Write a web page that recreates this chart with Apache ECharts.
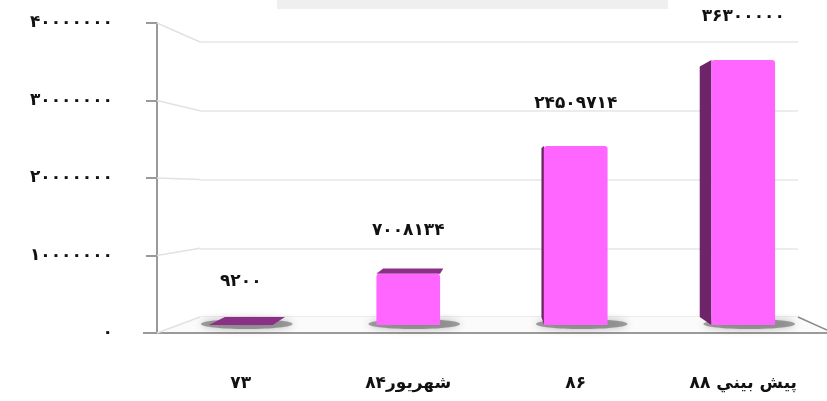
<!DOCTYPE html>
<html>
<head>
<meta charset="utf-8">
<script src="https://cdn.jsdelivr.net/npm/echarts@6/dist/echarts.min.js"></script>
<style>
html,body{margin:0;padding:0;background:#fff;}
#c{width:827px;height:401px;}
</style>
</head>
<body>
<div id="c"></div>
<script>
// ---- data ----
const categories = ['۷۳', 'شهریور۸۴', '۸۶', 'پيش بيني ۸۸'];
const values = [9200, 7008134, 24509714, 36300000];
const yMin = 0;
const yMax = 40000000;
const yInterval = 10000000;

// ---- helpers ----
const FA = '۰۱۲۳۴۵۶۷۸۹';
function fa(n) { return String(n).replace(/\d/g, d => FA[d]); }

const FONT = "'DejaVu Sans', sans-serif";
const FRONT = {left: 157, right: 0, top: 23, bottom: 68};
const BACK = {left: 200, right: 29, top: 42, bottom: 84};
const BARS = {left: 157, right: 0, top: 33, bottom: 76};

const C_FRONT = '#FF66FF';
const C_SIDE = '#6E2468';
const C_TOP = '#8A3086';

const chart = echarts.init(document.getElementById('c'), null, {renderer: 'canvas'});

function renderBar(params, api) {
  const idx = api.value(0);
  const val = api.value(1);
  const cs = params.coordSys;
  const base = api.coord([idx, 0]);
  const top = api.coord([idx, val]);
  const bw = api.size([1, 0])[0] * 0.38;
  const cx = base[0];
  const x0 = cx - bw / 2, x1 = cx + bw / 2;
  const yB = base[1], yT = top[1];
  const VX = cs.x + cs.width * 0.51;
  const VY = cs.y + cs.height * 0.5;
  const k = 0.055;
  const back = p => [p[0] + (VX - p[0]) * k, p[1] + (VY - p[1]) * k];
  const children = [];
  children.push({
    type: 'ellipse',
    shape: {cx: cx + 6, cy: yB - 1, rx: bw / 2 + 14, ry: 5},
    style: {fill: 'rgba(90,90,90,0.55)', shadowBlur: 8, shadowColor: 'rgba(0,0,0,0.5)'}
  });
  const bl = back([x0, yT]);
  const br = back([x1, yT]);
  if (bl[0] < x0 - 0.5) {
    children.push({type: 'polygon', shape: {points: [[x0, yT], [x0, yB], back([x0, yB]), back([x0, yT])]}, style: {fill: C_SIDE}});
  }
  if (yT > VY) {
    children.push({type: 'polygon', shape: {points: [[x0, yT], [x1, yT], br, bl]}, style: {fill: C_TOP}});
  }
  if (yB - yT > 0.5) {
    children.push({type: 'rect', shape: {x: x0, y: yT, width: bw, height: yB - yT, r: [3, 3, 0, 0]}, style: {fill: C_FRONT}});
  }
  children.push({
    type: 'text',
    style: {
      x: cx, y: yT - 43, text: fa(val), align: 'center', verticalAlign: 'middle',
      fill: '#111', font: 'bold 17px ' + FONT
    }
  });
  return {type: 'group', children};
}

const option = {
  backgroundColor: '#fff',
  animation: false,
  grid: [
    Object.assign({}, FRONT),
    Object.assign({}, BACK),
    Object.assign({}, BARS)
  ],
  xAxis: [
    {
      gridIndex: 0, type: 'category', data: categories,
      axisLine: {show: true, lineStyle: {color: '#9a9a9a', width: 2}},
      axisTick: {show: false},
      axisLabel: {margin: 42, fontSize: 17, fontWeight: 'bold', color: '#111', fontFamily: FONT},
      splitLine: {show: false}
    },
    {gridIndex: 1, type: 'category', data: categories, show: false},
    {gridIndex: 2, type: 'category', data: categories, show: false}
  ],
  yAxis: [
    {
      gridIndex: 0, type: 'value', min: yMin, max: yMax, interval: yInterval,
      axisLine: {show: true, lineStyle: {color: '#9a9a9a', width: 2}},
      axisTick: {show: true, length: 11, lineStyle: {color: '#9a9a9a', width: 2}},
      axisLabel: {margin: 44, fontSize: 17, fontWeight: 'bold', color: '#111', fontFamily: FONT, formatter: v => fa(v)},
      splitLine: {show: false}
    },
    {
      gridIndex: 1, type: 'value', min: yMin, max: yMax, interval: yInterval,
      axisLine: {show: false}, axisTick: {show: false}, axisLabel: {show: false},
      splitLine: {show: true, lineStyle: {color: '#e6e6e6', width: 1.5}}
    },
    {gridIndex: 2, type: 'value', min: yMin, max: yMax, show: false}
  ],
  series: [{
    type: 'custom',
    xAxisIndex: 2, yAxisIndex: 2,
    renderItem: renderBar,
    data: values.map((v, i) => [i, v]),
    z: 5
  }]
};
chart.setOption(option);

// ---- 3D frame decorations from the axes ----
const W = 827;
const ticks = [];
for (let v = yMin; v <= yMax; v += yInterval) ticks.push(v);
const yF = v => chart.convertToPixel({yAxisIndex: 0}, v);
const yK = v => chart.convertToPixel({yAxisIndex: 1}, v);
const fl = FRONT.left, bl = BACK.left, brx = W - BACK.right, frx = W - FRONT.right;
const gfx = [];
gfx.push({type: 'rect', shape: {x: 277, y: 0, width: 391, height: 9}, style: {fill: '#efefef'}, z: 0});
gfx.push({type: 'polygon', shape: {points: [[fl, yF(0)], [bl, yK(0)], [brx, yK(0)], [frx, yF(0)]]}, style: {fill: '#fbfbfb'}, z: 0});
ticks.forEach(v => {
  gfx.push({type: 'line', shape: {x1: fl, y1: yF(v), x2: bl, y2: yK(v)}, style: {stroke: '#e2e2e2', lineWidth: 1.5}, z: 1});
});
gfx.push({type: 'line', shape: {x1: brx, y1: yK(0), x2: frx, y2: yF(0) - 3}, style: {stroke: '#8a8a8a', lineWidth: 1.5}, z: 1});
gfx.push({type: 'line', shape: {x1: fl - 14, y1: yF(0), x2: fl, y2: yF(0)}, style: {stroke: '#9a9a9a', lineWidth: 2}, z: 1});
chart.setOption({graphic: gfx});
</script>
</body>
</html>
